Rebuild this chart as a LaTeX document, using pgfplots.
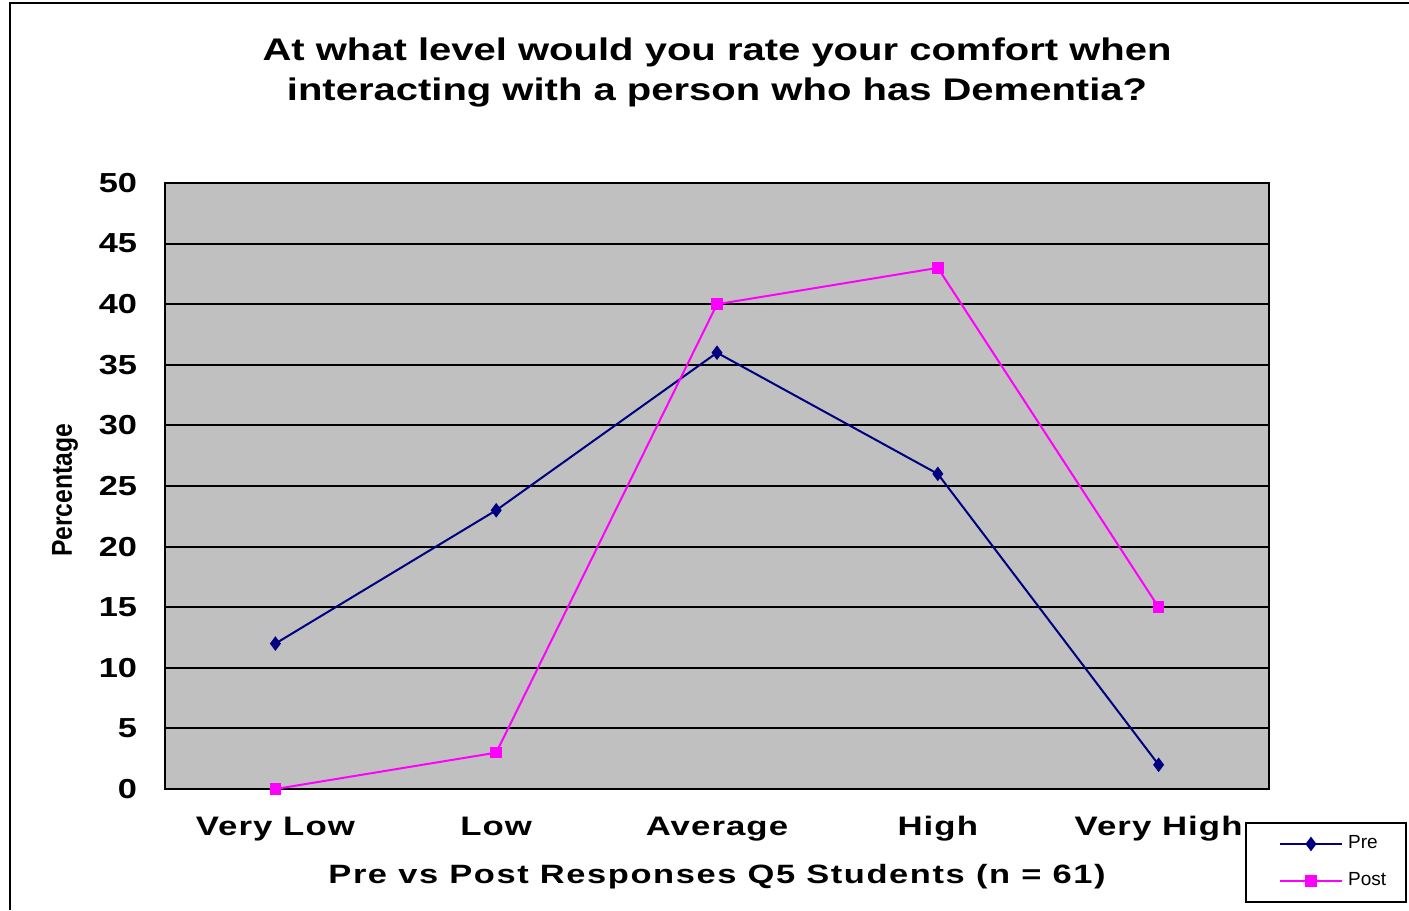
\documentclass[border=0pt]{standalone}
\usepackage{fontspec}
\setmainfont{Liberation Sans}
\newfontfamily\titlefont{Liberation Sans}[FakeStretch=1.28]
\newfontfamily\tickfont{Liberation Sans}[FakeStretch=1.25]
\newfontfamily\catfont{Liberation Sans}[FakeStretch=1.3,LetterSpace=4]
\newfontfamily\xlabfont{Liberation Sans}[FakeStretch=1.3,LetterSpace=6]
\newfontfamily\ylabfont{Liberation Sans}[FakeStretch=0.86]
\usepackage{pgfplots}
\pgfplotsset{compat=1.18}
\definecolor{bgray}{RGB}{192,192,192}
\definecolor{navy}{RGB}{0,0,128}
\definecolor{mag}{RGB}{255,0,255}
\begin{document}
\begin{tikzpicture}
\useasboundingbox (0,0) rectangle (563.6pt,-364pt);
\draw[line width=0.8pt] (4pt,-364pt) -- (4pt,-1.2pt) -- (563.6pt,-1.2pt);
\begin{axis}[
  at={(66pt,-315.6pt)}, anchor=south west,
  scale only axis, width=441.6pt, height=242.4pt,
  xmin=-0.5, xmax=4.5, ymin=0, ymax=50,
  xtick={0,1,2,3,4},
  xticklabels={Very Low,Low,Average,High,Very High},
  ytick distance=5,
  major tick length=0pt,
  ymajorgrids, major grid style={black, line width=0.75pt},
  axis line style={black, line width=0.8pt},
  axis background/.style={fill=bgray},
  clip=false,
  /pgf/number format/assume math mode=true,
  yticklabel style={font=\tickfont\bfseries\fontsize{11pt}{13pt}\selectfont, inner sep=0pt, xshift=-11pt},
  xticklabel style={font=\catfont\bfseries\fontsize{10.7pt}{13pt}\selectfont, inner sep=0pt, anchor=base, yshift=-18.6pt},
  title={At what level would you rate your comfort when\\interacting with a person who has Dementia?},
  title style={font=\titlefont\bfseries\fontsize{12.5pt}{16pt}\selectfont, align=center, at={(0.5,1.157)}, anchor=center},
  xlabel={Pre vs Post Responses Q5 Students (n = 61)},
  xlabel style={font=\xlabfont\bfseries\fontsize{10.6pt}{13pt}\selectfont, at={(0.5,-0.1452)}, anchor=center},
  ylabel={Percentage},
  ylabel style={font=\ylabfont\bfseries\fontsize{11.5pt}{13pt}\selectfont, at={(-0.0906,0.493)}, anchor=center},
  legend style={at={(0.978,-0.0545)}, anchor=north west, draw=black, line width=0.8pt,
    font=\fontsize{7.6pt}{8pt}\selectfont, inner xsep=6pt, inner ysep=3pt,
    row sep=4pt, legend cell align=left},
  legend image code/.code={
    \path (-7.2pt,0pt);
    \draw[#1, mark=none] (0pt,0pt) -- (25pt,0pt);
    \draw[#1, only marks] plot coordinates {(12.5pt,0pt)};
  },
]
\addplot[color=navy, line width=0.8pt, mark=diamond*, mark size=2.6pt, mark options={fill=navy, line width=0.4pt}]
  coordinates {(0,12) (1,23) (2,36) (3,26) (4,2)};
\addlegendentry{Pre}
\addplot[color=mag, line width=0.8pt, mark=square*, mark size=2.1pt, mark options={fill=mag, line width=0.4pt}]
  coordinates {(0,0) (1,3) (2,40) (3,43) (4,15)};
\addlegendentry{Post}
\end{axis}
\end{tikzpicture}
\end{document}
